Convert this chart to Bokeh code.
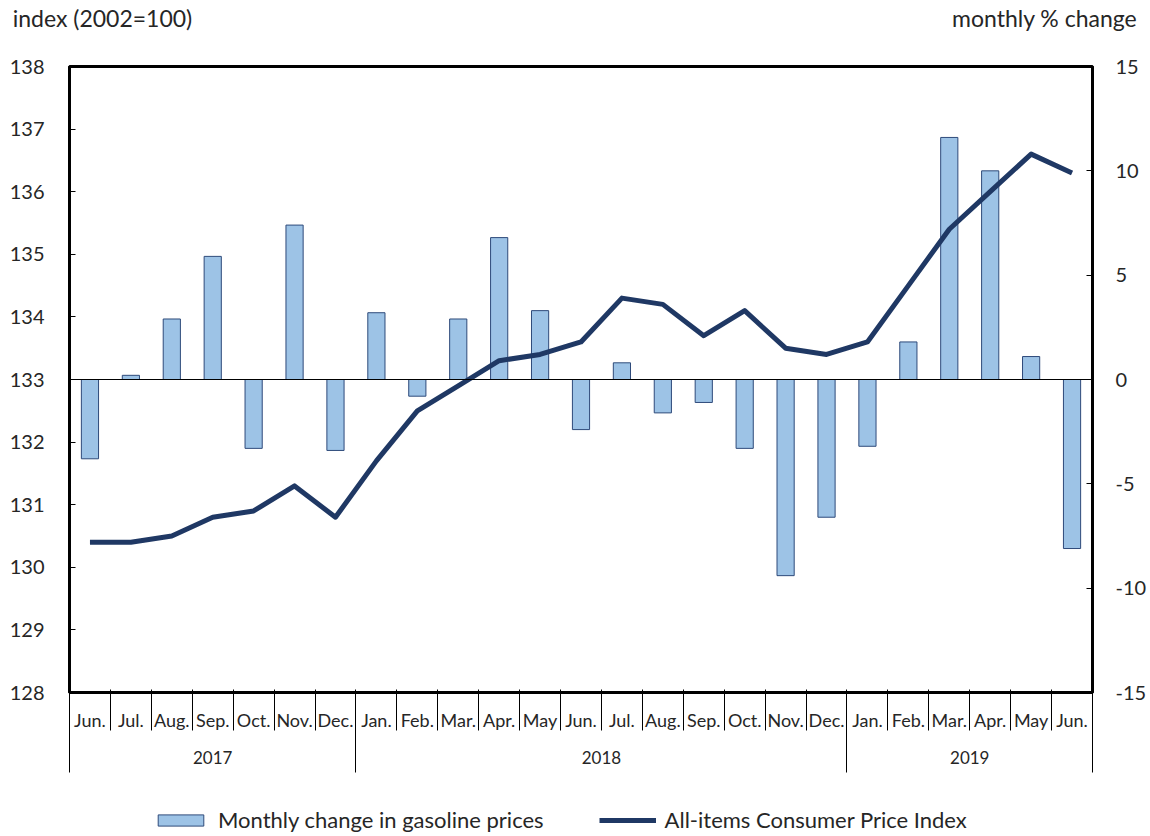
import numpy as np
from bokeh.plotting import figure
from bokeh.layouts import column
from bokeh.models import (Range1d, LinearAxis, FixedTicker, Span,
                          Legend, LegendItem)
from bokeh.embed import file_html
from bokeh.resources import INLINE

months = ["Jun.", "Jul.", "Aug.", "Sep.", "Oct.", "Nov.", "Dec.",
          "Jan.", "Feb.", "Mar.", "Apr.", "May", "Jun.", "Jul.", "Aug.", "Sep.", "Oct.", "Nov.", "Dec.",
          "Jan.", "Feb.", "Mar.", "Apr.", "May", "Jun."]
years = ["2017", "2018", "2019"]
year_counts = [7, 12, 6]
gasoline = [-3.8, 0.2, 2.9, 5.9, -3.3, 7.4, -3.4,
            3.2, -0.8, 2.9, 6.8, 3.3, -2.4, 0.8, -1.6, -1.1, -3.3, -9.4, -6.6,
            -3.2, 1.8, 11.6, 10.0, 1.1, -8.1]
cpi = [130.4, 130.4, 130.5, 130.8, 130.9, 131.3, 130.8,
       131.7, 132.5, 132.9, 133.3, 133.4, 133.6, 134.3, 134.2, 133.7, 134.1, 133.5, 133.4,
       133.6, 134.5, 135.4, 136.0, 136.6, 136.3]
left_ticks = list(range(128, 139))
right_ticks = [-15, -10, -5, 0, 5, 10, 15]
left_title = "index (2002=100)"
right_title = "monthly % change"
bar_label = "Monthly change in gasoline prices"
line_label = "All-items Consumer Price Index"

FONT = "Lato"
TXT = "#262626"
BAR_FILL = "#9DC3E6"
BAR_LINE = "#2E4A7A"
LINE_COLOR = "#1F3864"
W = 1150

n = len(months)
xc = np.arange(n) + 0.5
bounds = list(range(n + 1))
ybounds = [0] + [int(v) for v in np.cumsum(year_counts)]
ycenters = [(ybounds[i] + ybounds[i + 1]) / 2 for i in range(len(years))]

p = figure(frame_width=1023, frame_height=626, output_backend="svg", toolbar_location=None,
           x_range=Range1d(0, n), y_range=Range1d(128, 138),
           x_axis_location=None, y_axis_location=None,
           min_border_left=69, min_border_right=58, min_border_top=66,
           min_border_bottom=106)
p.extra_y_ranges = {"pct": Range1d(-15, 15)}
p.grid.visible = False
p.outline_line_color = "black"
p.outline_line_width = 3

# axis titles, written as labels of an invisible top axis
title_pos = [0.806, 23.83]
ta = LinearAxis(ticker=FixedTicker(ticks=title_pos),
                major_label_overrides={title_pos[0]: left_title, title_pos[1]: right_title},
                axis_line_color=None, major_tick_line_color=None, minor_tick_line_color=None,
                major_label_standoff=29, major_label_text_font=FONT,
                major_label_text_font_size="23px", major_label_text_color=TXT)
p.add_layout(ta, "above")

la = LinearAxis(ticker=FixedTicker(ticks=left_ticks), major_tick_in=6, major_tick_out=0,
                minor_tick_line_color=None, axis_line_width=3, major_tick_line_width=1,
                major_label_standoff=25, major_label_text_font=FONT,
                major_label_text_font_size="20px", major_label_text_color=TXT)
p.add_layout(la, "left")

ra = LinearAxis(y_range_name="pct", ticker=FixedTicker(ticks=right_ticks), major_tick_in=6,
                major_tick_out=0, minor_tick_line_color=None, axis_line_width=3,
                major_label_overrides={v: str(v) for v in right_ticks},
                major_label_standoff=23, major_label_text_font=FONT,
                major_label_text_font_size="20px", major_label_text_color=TXT)
p.add_layout(ra, "right")

ma = LinearAxis(ticker=FixedTicker(ticks=list(xc), minor_ticks=bounds),
                major_label_overrides={float(x): m for x, m in zip(xc, months)},
                major_tick_line_color=None, minor_tick_in=3, minor_tick_out=38,
                minor_tick_line_color="black", minor_tick_line_width=1,
                axis_line_width=3, major_label_standoff=-22,
                major_label_text_font=FONT, major_label_text_font_size="18px",
                major_label_text_color=TXT)
p.add_layout(ma, "below")

ya = LinearAxis(ticker=FixedTicker(ticks=ycenters, minor_ticks=[float(b) for b in ybounds]),
                major_label_overrides={float(c): y for c, y in zip(ycenters, years)},
                axis_line_color=None, major_tick_line_color=None,
                minor_tick_in=41, minor_tick_out=39,
                minor_tick_line_color="black", minor_tick_line_width=1,
                major_label_standoff=-22,
                major_label_text_font=FONT, major_label_text_font_size="17px",
                major_label_text_color=TXT)
p.add_layout(ya, "below")

bars = p.vbar(x=xc, top=gasoline, bottom=0, width=0.42, y_range_name="pct",
              fill_color=BAR_FILL, line_color=BAR_LINE, line_width=1)
p.add_layout(Span(location=0, dimension="width", y_range_name="pct",
                  line_color="black", line_width=1))
p.line(xc, cpi, line_color=LINE_COLOR, line_width=5, line_join="round")

# ---- footer holding the legend (its renderers use the same data, kept out of view)
FOOT_H = 38
foot = figure(width=W, height=FOOT_H, output_backend="svg", toolbar_location=None,
              x_range=Range1d(1000, 1001), y_range=Range1d(1000, 1001),
              x_axis_location=None, y_axis_location=None, min_border=0)
foot.grid.visible = False
foot.outline_line_color = None
fb = foot.vbar(x=xc, top=gasoline, bottom=0, width=0.42,
               fill_color=BAR_FILL, line_color=BAR_LINE, line_width=1)
fl = foot.line(x=xc, y=cpi, line_color=LINE_COLOR, line_width=5)
legend = Legend(items=[LegendItem(label=bar_label, renderers=[fb]),
                       LegendItem(label=line_label, renderers=[fl])],
                orientation="horizontal", location=(83, 3), border_line_color=None,
                background_fill_alpha=0, glyph_width=57, glyph_height=14,
                label_text_font=FONT, label_text_font_size="22px", label_text_color=TXT,
                spacing=55, label_standoff=9, margin=0, padding=3)
foot.add_layout(legend, "center")

layout = column(p, foot, spacing=0)
open("out.html", "w").write(file_html(layout, INLINE))
